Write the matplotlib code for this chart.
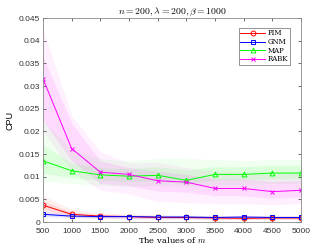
import numpy as np
import matplotlib.pyplot as plt

m_values = [500, 1000, 1500, 2000, 2500, 3000, 3500, 4000, 4500, 5000]

# mean CPU time per method
pim = [0.0037, 0.0017, 0.0013, 0.0012, 0.0010, 0.0010, 0.0009, 0.0008, 0.0009, 0.0009]
gnm = [0.0017, 0.0013, 0.0012, 0.0012, 0.0011, 0.0011, 0.0010, 0.0011, 0.0010, 0.0010]
map_ = [0.0135, 0.0113, 0.0104, 0.0101, 0.0103, 0.0092, 0.0105, 0.0105, 0.0108, 0.0108]
rabk = [0.0316, 0.0162, 0.0110, 0.0105, 0.0091, 0.0088, 0.0074, 0.0074, 0.0067, 0.0070]

# outer (min/max) and inner (quartile) bands
pim_outer = ([0.0020, 0.0010, 0.0008, 0.0007, 0.0006, 0.0006, 0.0005, 0.0005, 0.0005, 0.0005],
             [0.0058, 0.0028, 0.0020, 0.0018, 0.0016, 0.0015, 0.0014, 0.0013, 0.0014, 0.0014])
pim_inner = ([0.0028, 0.0013, 0.0010, 0.0009, 0.0008, 0.0008, 0.0007, 0.0006, 0.0007, 0.0007],
             [0.0047, 0.0022, 0.0016, 0.0015, 0.0013, 0.0012, 0.0011, 0.0010, 0.0011, 0.0011])
gnm_outer = ([0.0011, 0.0009, 0.0008, 0.0008, 0.0007, 0.0007, 0.0006, 0.0007, 0.0006, 0.0006],
             [0.0024, 0.0018, 0.0016, 0.0016, 0.0015, 0.0015, 0.0014, 0.0015, 0.0014, 0.0014])
gnm_inner = ([0.0014, 0.0011, 0.0010, 0.0010, 0.0009, 0.0009, 0.0008, 0.0009, 0.0008, 0.0008],
             [0.0020, 0.0015, 0.0014, 0.0014, 0.0013, 0.0013, 0.0012, 0.0013, 0.0012, 0.0012])
map_outer = ([0.0090, 0.0085, 0.0080, 0.0078, 0.0080, 0.0078, 0.0082, 0.0082, 0.0085, 0.0085],
             [0.0225, 0.0160, 0.0140, 0.0135, 0.0140, 0.0140, 0.0138, 0.0135, 0.0138, 0.0138])
map_inner = ([0.0107, 0.0098, 0.0092, 0.0090, 0.0090, 0.0085, 0.0093, 0.0093, 0.0095, 0.0095],
             [0.0170, 0.0130, 0.0120, 0.0118, 0.0122, 0.0115, 0.0122, 0.0122, 0.0125, 0.0125])
rabk_outer = ([0.0200, 0.0112, 0.0070, 0.0062, 0.0045, 0.0043, 0.0040, 0.0040, 0.0038, 0.0040],
              [0.0424, 0.0235, 0.0155, 0.0130, 0.0132, 0.0120, 0.0112, 0.0110, 0.0105, 0.0108])
rabk_inner = ([0.0225, 0.0135, 0.0085, 0.0080, 0.0068, 0.0066, 0.0058, 0.0058, 0.0052, 0.0055],
              [0.0365, 0.0218, 0.0135, 0.0120, 0.0112, 0.0105, 0.0095, 0.0095, 0.0090, 0.0092])

plt.rcParams['mathtext.fontset'] = 'cm'
plt.rcParams['font.family'] = 'Liberation Sans'

fig = plt.figure(figsize=(3.32, 2.49), dpi=100)
ax = fig.add_axes([0.1295, 0.1084, 0.7771, 0.8193])

series = [
    ("PIM", pim, pim_outer, pim_inner, "#ff0000", "o"),
    ("GNM", gnm, gnm_outer, gnm_inner, "#0000ff", "s"),
    ("MAP", map_, map_outer, map_inner, "#00ff00", "^"),
    ("RABK", rabk, rabk_outer, rabk_inner, "#ff00ff", "x"),
]

for name, y, outer, inner, c, mk in series:
    ax.fill_between(m_values, outer[0], outer[1], color=c, alpha=0.06, lw=0)
    ax.fill_between(m_values, inner[0], inner[1], color=c, alpha=0.09, lw=0)

for name, y, outer, inner, c, mk in series:
    ax.plot(m_values, y, color=c, marker=mk, lw=0.7, ms=3.5, mfc="none",
            mew=0.7, label=name)

ax.set_xlim(500, 5000)
ax.set_ylim(0, 0.045)
ax.set_xticks(m_values)
yt = np.arange(0, 0.0451, 0.005)
ax.set_yticks(yt)
ax.set_yticklabels(["0"] + ["%g" % round(v, 3) for v in yt[1:]])
ax.tick_params(direction="in", length=2.5, width=0.5, labelsize=6,
               top=True, right=True, colors="#333333", pad=2)
ax.tick_params(axis="x", pad=4)
for s in ax.spines.values():
    s.set_color("#888888")
    s.set_linewidth(0.6)

ax.set_title(r"$n=200, \lambda=200, \beta=1000$", fontsize=7, pad=3)
ax.set_xlabel(r"The values of $m$", family="DejaVu Serif", fontsize=6, labelpad=0.5)
ax.set_ylabel("CPU", fontsize=6.5, labelpad=3)

leg = ax.legend(loc="upper right", prop={"family": "DejaVu Serif", "size": 5},
                fancybox=False, edgecolor="#444444", handlelength=3.5,
                borderpad=0.25, labelspacing=0.1, handletextpad=0.4,
                bbox_to_anchor=(0.97, 0.97))
leg.get_frame().set_linewidth(0.5)

fig.savefig("out.png", dpi=100)
